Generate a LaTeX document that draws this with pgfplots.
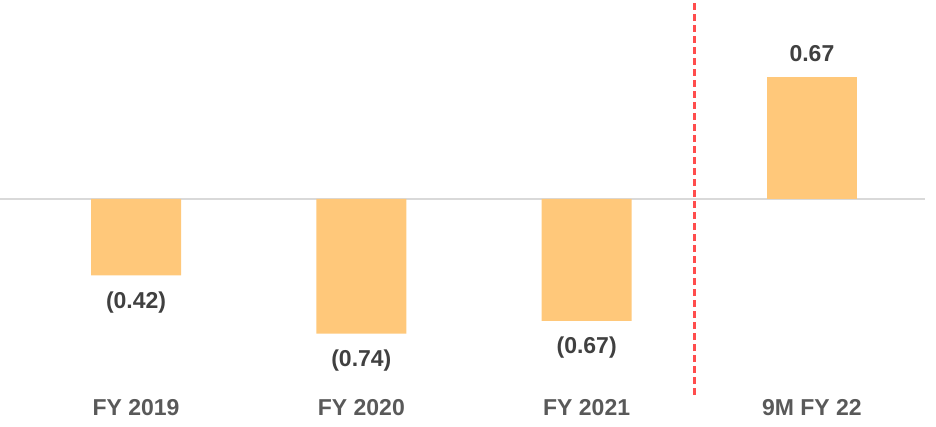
\documentclass[border=0pt]{standalone}
\usepackage{pgfplots}
\pgfplotsset{compat=1.18}
\usepackage{pgfplotstable}
\usepackage{fontspec}
\setmainfont{Liberation Sans}
\definecolor{barc}{HTML}{FFC87A}
\definecolor{valc}{HTML}{404040}
\definecolor{catc}{HTML}{595959}
\definecolor{zeroc}{HTML}{D9D9D9}
\definecolor{redc}{HTML}{FF4D4D}
\pgfplotstableread{
x y lab
0 -0.42 (0.42)
1 -0.74 (0.74)
2 -0.67 (0.67)
}\negtable
\pgfplotstableread{
x y lab
3 0.67 0.67
}\postable
\begin{document}
\begin{tikzpicture}
\useasboundingbox (0,0) rectangle (936pt,426pt);
\begin{axis}[
  at={(0,31pt)}, anchor=south west,
  scale only axis, width=925pt, height=395pt,
  xmin=-0.604, xmax=3.502, ymin=-1.077, ymax=1.093,
  axis line style={draw=none},
  ytick=\empty,
  xtick={0,1,2,3},
  xticklabels={FY 2019, FY 2020, FY 2021, 9M FY 22},
  major tick length=0pt,
  xticklabel style={font=\fontsize{23}{26}\selectfont\bfseries, text=catc, yshift=-1pt},
  clip=false,
]
\addplot[draw=zeroc, line width=2pt] coordinates {(-0.604,0) (3.502,0)};
\addplot[ybar, bar shift=0pt, fill=barc, draw=none, bar width=90pt,
  nodes near coords, point meta=explicit symbolic,
  nodes near coords style={font=\fontsize{23}{26}\selectfont\bfseries, text=valc, anchor=north, inner sep=16pt}]
  table[x=x, y=y, meta=lab] {\negtable};
\addplot[ybar, bar shift=0pt, fill=barc, draw=none, bar width=90pt,
  nodes near coords, point meta=explicit symbolic,
  nodes near coords style={font=\fontsize{23}{26}\selectfont\bfseries, text=valc, anchor=south, inner sep=15pt}]
  table[x=x, y=y, meta=lab] {\postable};
\addplot[draw=redc, line width=3pt, dash pattern=on 7pt off 4pt] coordinates {(2.48,-1.077) (2.48,1.093)};
\end{axis}
\end{tikzpicture}
\end{document}
